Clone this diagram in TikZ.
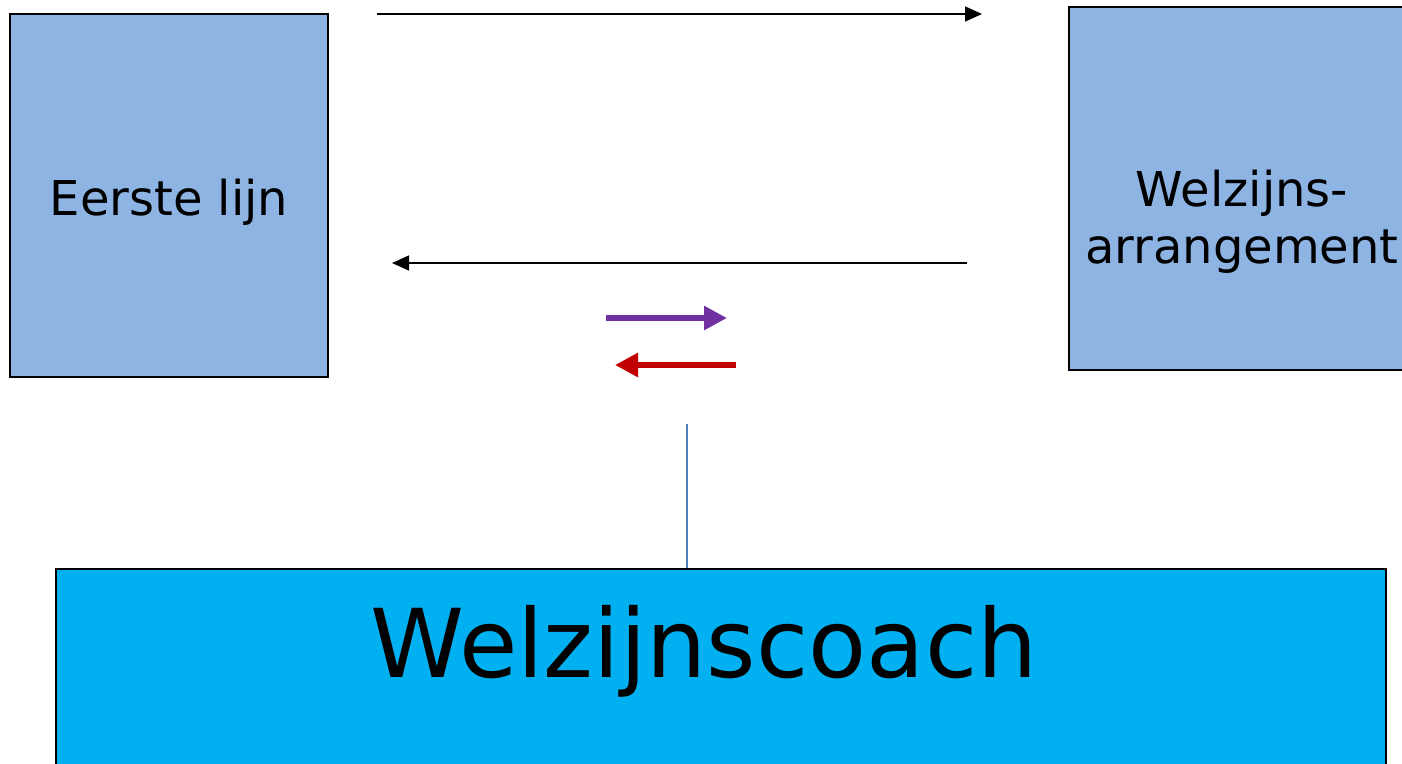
\documentclass[tikz,border=0pt]{standalone}
\usepackage{fontspec}
\setmainfont{DejaVu Sans}
\usetikzlibrary{arrows.meta}
\definecolor{boxblue}{HTML}{8EB4E3}
\definecolor{coachblue}{HTML}{00B0F0}
\definecolor{purp}{HTML}{7030A0}
\definecolor{darkred}{HTML}{C00000}
\definecolor{lineblue}{HTML}{4A7EBB}
\tikzset{
  bluebox/.style={draw=black, line width=1.8pt, fill=boxblue, inner sep=0pt},
  coachbox/.style={draw=black, line width=1.8pt, fill=coachblue, inner sep=0pt},
  thinarrow/.style={draw=black, line width=1.5pt, -{Triangle[length=17pt,width=15pt]}},
  thickarrow/.style={line width=6pt, -{Triangle[length=23pt,width=23pt]}},
  lbl/.style={inner sep=0pt, align=center, font=\fontsize{48}{57}\selectfont},
}
\begin{document}
\begin{tikzpicture}[x=1pt,y=-1pt]
\useasboundingbox (0,0) rectangle (1402,763);
\clip (0,0) rectangle (1402,763);
\node[bluebox, minimum width=318pt, minimum height=363pt] (left) at (169,195.5) {};
\node[lbl] (lefttext) at (169,202) {Eerste lijn};
\node[bluebox, minimum width=346pt, minimum height=363pt] (right) at (1242,188.5) {};
\node[lbl] (righttext) at (1242,222) {Welzijns-\\arrangement};
\node[coachbox, minimum width=1330pt, minimum height=260pt] (coach) at (721,699) {};
\node[inner sep=0pt, font=\fontsize{95}{114}\selectfont] (coachtext) at (704,651) {Welzijnscoach};
\coordinate (a1s) at (377,14);
\coordinate (a1e) at (982,14);
\coordinate (a2s) at (967,263);
\coordinate (a2e) at (392,263);
\coordinate (a3s) at (606,318);
\coordinate (a3e) at (727,318);
\coordinate (a4s) at (736,365);
\coordinate (a4e) at (615,365);
\coordinate (vtop) at (687,424);
\draw[thinarrow] (a1s) -- (a1e);
\draw[thinarrow] (a2s) -- (a2e);
\draw[thickarrow, draw=purp, fill=purp] (a3s) -- (a3e);
\draw[thickarrow, draw=darkred, fill=darkred] (a4s) -- (a4e);
\draw[lineblue, line width=2pt] (vtop) -- (vtop |- coach.north);
\end{tikzpicture}
\end{document}
